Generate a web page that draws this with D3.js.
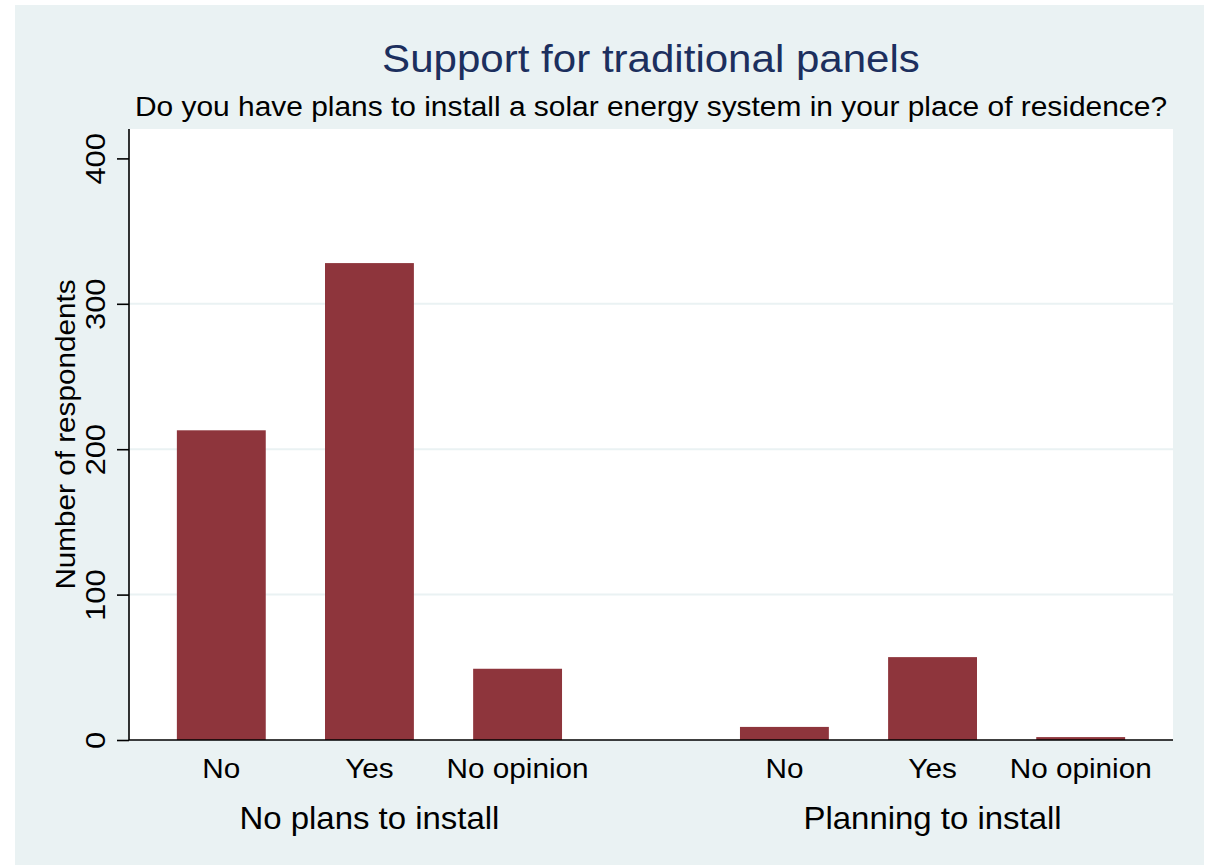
<!DOCTYPE html>
<html>
<head>
<meta charset="utf-8">
<script src="https://cdn.jsdelivr.net/npm/d3@7"></script>
<style>
html,body{margin:0;padding:0;background:#fff;}
svg{display:block;font-family:"Liberation Sans",Arial,sans-serif;}
</style>
</head>
<body>
<svg id="chart" width="1210" height="865"></svg>
<script>
const groups = ["No plans to install", "Planning to install"];
const categories = ["No", "Yes", "No opinion"];
const valuesNoPlans = [213, 328, 49];
const valuesPlanning = [9, 57, 2];
const yTicks = [0, 100, 200, 300, 400];
const titleText = "Support for traditional panels";
const subtitleText = "Do you have plans to install a solar energy system in your place of residence?";
const yLabel = "Number of respondents";

const data = [
  {group: groups[0], values: valuesNoPlans},
  {group: groups[1], values: valuesPlanning}
];

const svg = d3.select("#chart");
const W = 1210, H = 865;
const plot = {left: 129, right: 1173, top: 129, bottom: 740};
const SX = 1.08;

svg.append("rect").attr("x", 0).attr("y", 0).attr("width", W).attr("height", H).attr("fill", "#ffffff");
svg.append("rect").attr("x", 15).attr("y", 5).attr("width", 1189).attr("height", 860).attr("fill", "#eaf2f3");
svg.append("rect").attr("x", plot.left).attr("y", plot.top)
  .attr("width", plot.right - plot.left).attr("height", plot.bottom - plot.top).attr("fill", "#ffffff");

const y = d3.scaleLinear().domain([0, 400]).range([740, 158.4]);

const x0 = d3.scaleBand().domain(groups).range([plot.left, plot.right])
  .paddingInner(0.316).paddingOuter(0.085);
const x1 = d3.scaleBand().domain(categories).range([0, x0.bandwidth()])
  .paddingInner(0.4).paddingOuter(0);

// gridlines
svg.append("g").selectAll("line").data(yTicks.filter(t => t > 0 && t < 400)).join("line")
  .attr("x1", plot.left).attr("x2", plot.right)
  .attr("y1", d => y(d)).attr("y2", d => y(d))
  .attr("stroke", "#eaf2f3").attr("stroke-width", 2);

// bars
const g = svg.append("g");
data.forEach(d => {
  g.append("g").selectAll("rect").data(d.values.map((v, i) => ({cat: categories[i], v})))
    .join("rect")
    .attr("x", e => x0(d.group) + x1(e.cat))
    .attr("width", x1.bandwidth())
    .attr("y", e => y(e.v))
    .attr("height", e => y(0) - y(e.v))
    .attr("fill", "#8e353c");
});

// y axis
const yAxis = d3.axisLeft(y).tickValues(yTicks).tickSize(12).tickPadding(0).tickFormat(d3.format("d"));
const ya = svg.append("g").attr("transform", `translate(${plot.left},0)`).call(yAxis);
ya.select(".domain").attr("d", `M0,${plot.top}V${plot.bottom}`).attr("stroke", "#000").attr("stroke-width", 1.6);
ya.selectAll(".tick line").attr("stroke", "#000").attr("stroke-width", 1.6);
ya.selectAll(".tick text")
  .attr("x", 0).attr("y", 0).attr("dy", 0)
  .attr("transform", `translate(-24,0) rotate(-90) scale(${SX},1)`)
  .attr("text-anchor", "middle")
  .attr("font-size", 28.5).attr("fill", "#000")
  .attr("font-family", "Liberation Sans, Arial, sans-serif");

// x axis line
svg.append("line").attr("x1", plot.left).attr("x2", plot.right)
  .attr("y1", y(0)).attr("y2", y(0)).attr("stroke", "#000").attr("stroke-width", 1.6);

// category labels
data.forEach(d => {
  svg.append("g").selectAll("text").data(categories).join("text")
    .attr("transform", c => `translate(${x0(d.group) + x1(c) + x1.bandwidth() / 2},778) scale(${SX},1)`)
    .attr("text-anchor", "middle")
    .attr("font-size", 27.5)
    .attr("fill", "#000")
    .text(c => c);
});

// group labels
svg.append("g").selectAll("text").data(groups).join("text")
  .attr("transform", gr => `translate(${x0(gr) + x0.bandwidth() / 2},829) scale(${SX},1)`)
  .attr("text-anchor", "middle")
  .attr("font-size", 30.5)
  .attr("fill", "#000")
  .text(gr => gr);

// y axis title
svg.append("text")
  .attr("transform", `translate(75,${(plot.top + plot.bottom) / 2}) rotate(-90) scale(${SX},1)`)
  .attr("text-anchor", "middle")
  .attr("font-size", 27.5)
  .attr("fill", "#000")
  .text(yLabel);

// titles
svg.append("text").attr("transform", "translate(651,72) scale(1.065,1)").attr("text-anchor", "middle")
  .attr("font-size", 39.5).attr("fill", "#1c2f5e").text(titleText);
svg.append("text").attr("transform", `translate(651,116) scale(${SX},1)`).attr("text-anchor", "middle")
  .attr("font-size", 27.7).attr("fill", "#000").text(subtitleText);
</script>
</body>
</html>
